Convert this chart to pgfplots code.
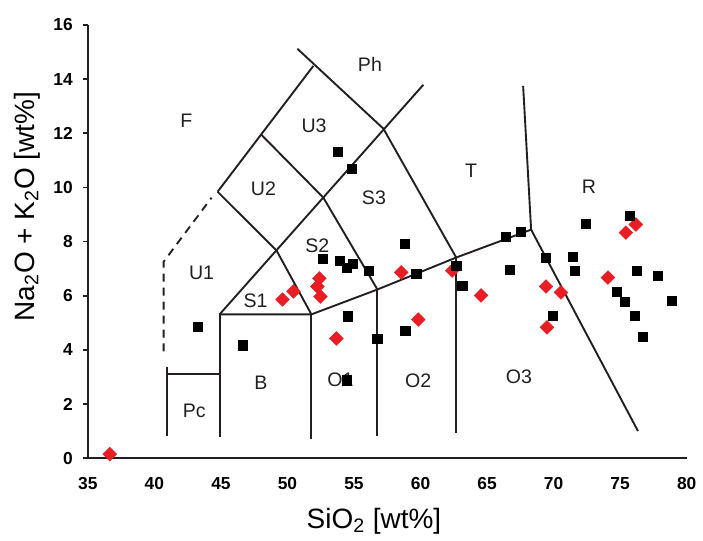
\documentclass[border=0pt]{standalone}
\usepackage{fontspec}
\setmainfont{Liberation Sans}
\usepackage{pgfplots}
\pgfplotsset{compat=1.18}
\definecolor{linec}{RGB}{35,31,32}
\definecolor{redpt}{RGB}{232,30,36}
\tikzset{bnd/.style={linec, line width=0.95pt, mark=none, solid}}

\begin{document}
\begin{tikzpicture}
\begin{axis}[
  scale only axis, width=300pt, height=217pt,
  xmin=35, xmax=80, ymin=0, ymax=16,
  axis lines=left, axis line style={-, linec, line width=0.95pt},
  xtick={35,40,...,80}, ytick={0,2,...,16},
  tick align=outside, major tick length=2.5pt,
  x tick style={draw=none}, y tick style={linec, line width=0.8pt},
  /pgf/number format/assume math mode=true,
  ticklabel style={font=\fontsize{8.7}{10}\selectfont\bfseries},
  xticklabel style={yshift=-3.8pt},
  yticklabel style={xshift=-1.5pt},
  xlabel={SiO\textsubscript{2} [wt\%]},
  ylabel={Na\textsubscript{2}O + K\textsubscript{2}O [wt\%]},
  label style={font=\fontsize{14}{16}\selectfont},
  xlabel style={at={(axis cs:56.5,-2.32)}, anchor=center},
  ylabel style={at={(axis cs:30.42,9.29)}, anchor=center},
  clip=false,
]
% page extent
\path (axis cs:28.40,-2.839) rectangle (axis cs:81.125,16.922);

% field boundaries
\addplot[bnd] coordinates {(50.75,15.12) (57.21,12.17) (62.68,7.41)};
\addplot[bnd] coordinates {(44.75,9.84) (51.95,14.49)};
\addplot[bnd] coordinates {(48.05,11.94) (52.70,9.62) (56.76,6.23)};
\addplot[bnd] coordinates {(44.75,9.84) (49.18,7.67) (51.80,5.31)};
\addplot[bnd] coordinates {(44.90,5.31) (60.21,13.79)};
\addplot[bnd] coordinates {(44.90,5.31) (51.80,5.31) (56.76,6.23) (62.68,7.41) (68.31,8.44) (76.34,1.0)};
\addplot[bnd] coordinates {(67.71,13.75) (68.31,8.44)};
\addplot[bnd] coordinates {(44.90,0.77) (44.90,5.31)};
\addplot[bnd] coordinates {(51.80,0.70) (51.80,5.31)};
\addplot[bnd] coordinates {(56.76,0.81) (56.76,6.23)};
\addplot[bnd] coordinates {(62.68,0.92) (62.68,7.41)};
\addplot[bnd] coordinates {(40.93,0.81) (40.93,3.35)};
\addplot[bnd] coordinates {(40.93,3.10) (44.90,3.10)};
\addplot[bnd, dash pattern=on 4pt off 3pt] coordinates {(40.70,3.94) (40.70,7.26) (44.30,9.62)};

% field names
\begin{scope}[font=\fontsize{9.8}{11}\selectfont, text=linec]
\node at (axis cs:42.4,12.45) {F};
\node at (axis cs:52.0,12.28) {U3};
\node at (axis cs:56.2,14.56) {Ph};
\node at (axis cs:48.2,9.95) {U2};
\node at (axis cs:52.25,7.85) {S2};
\node at (axis cs:56.5,9.62) {S3};
\node at (axis cs:63.8,10.6) {T};
\node at (axis cs:72.66,10.03) {R};
\node at (axis cs:43.55,6.86) {U1};
\node at (axis cs:47.6,5.83) {S1};
\node at (axis cs:48.0,2.8) {B};
\node at (axis cs:43.0,1.73) {Pc};
\node at (axis cs:53.98,2.88) {O1};
\node at (axis cs:59.83,2.84) {O2};
\node at (axis cs:67.4,2.99) {O3};
\end{scope}

% samples
\addplot[only marks, mark=square*, mark size=2.45pt, color=redpt,
  mark options={solid, rotate=45, fill=redpt, draw=redpt, line width=0.2pt}] coordinates {
  (36.65,0.15) (49.63,5.86) (50.45,6.16) (52.40,6.64) (52.25,6.34) (52.48,5.97)
  (53.68,4.42) (58.55,6.86) (59.83,5.12) (62.38,6.93) (64.55,6.01) (69.43,6.34)
  (70.55,6.12) (69.50,4.83) (74.08,6.67) (75.43,8.33) (76.18,8.63)
};
\addplot[only marks, mark=square*, mark size=2.3pt, color=black,
  mark options={solid, fill=black, draw=black, line width=0.2pt}] coordinates {
  (53.75,11.32) (54.80,10.69) (52.63,7.37) (53.90,7.30) (54.43,7.04) (54.88,7.19)
  (56.08,6.93) (58.78,7.93) (59.68,6.82) (62.68,7.12) (63.13,6.38) (54.50,5.24)
  (56.75,4.42) (58.85,4.72) (54.43,2.88) (43.25,4.87) (46.63,4.17) (66.43,8.18)
  (67.55,8.37) (66.73,6.97) (69.43,7.41) (69.95,5.27) (71.45,7.45) (71.60,6.93)
  (72.43,8.66) (75.73,8.96) (76.25,6.93) (77.83,6.75) (74.75,6.16) (75.35,5.79)
  (76.10,5.27) (78.88,5.82) (76.70,4.50)
};
\end{axis}
\end{tikzpicture}
\end{document}
